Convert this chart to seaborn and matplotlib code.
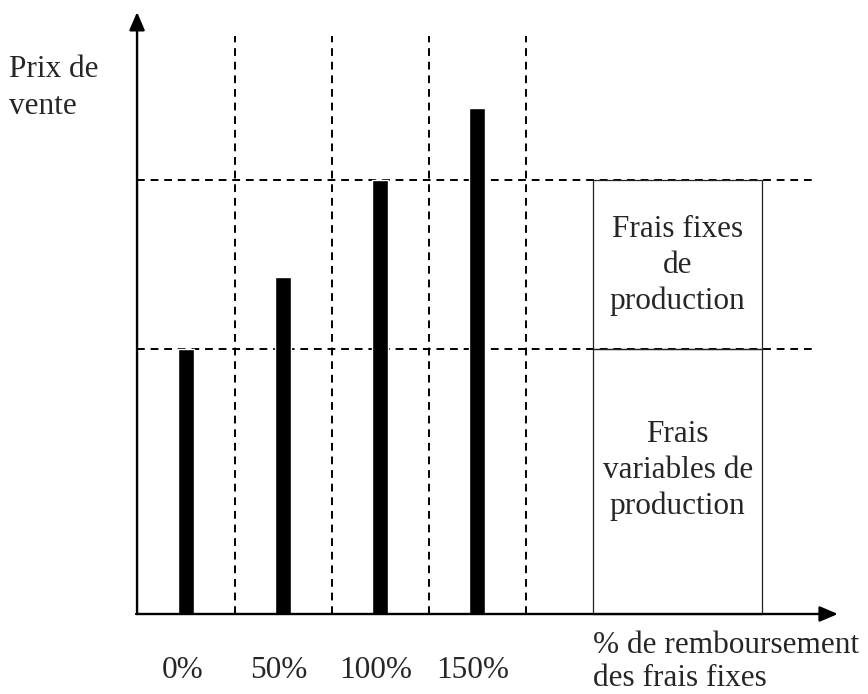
import matplotlib
matplotlib.use("Agg")
import matplotlib.pyplot as plt
import seaborn as sns
import pandas as pd

# Selling price for each level of fixed-cost recovery
categories = ["0%", "50%", "100%", "150%"]
prix_vente = [55, 70, 90, 105]

# Cost breakdown shown in the reference column
frais_variables = 55
frais_fixes = 35

sns.set_style("white")
plt.rcParams["font.family"] = ["Liberation Serif", "DejaVu Serif"]

df = pd.DataFrame({"remb": categories, "prix": prix_vente})

fig = plt.figure(figsize=(8.68, 6.94), dpi=100)
ax = fig.add_axes([0, 0, 1, 1])

sns.barplot(data=df, x="remb", y="prix", order=categories, color="black",
            width=0.165, saturation=1, ax=ax, zorder=3)

x0 = -0.505          # position of the vertical axis
ax.set_xlim(-1.918, 7.031)
ax.set_ylim(-16.6, 127.4)
ax.set_axis_off()

dash = (0, (4, 3))
# vertical dashed separators between categories
for i in range(len(categories)):
    ax.plot([i + 0.5, i + 0.5], [0, 120], color="black", lw=1.4,
            linestyle=dash, zorder=1)

# horizontal dashed reference levels
box_left, box_right = 4.2, 5.94
total = frais_variables + frais_fixes
for level in (frais_variables, total):
    ax.plot([x0, 6.48], [level, level], color="black", lw=1.4,
            linestyle=dash, zorder=1)

# stacked cost column
for y_lo, y_hi in ((0, frais_variables), (frais_variables, total)):
    ax.plot([box_left, box_left, box_right, box_right, box_left],
            [y_lo, y_hi, y_hi, y_lo, y_lo], color="#222222", lw=0.9, zorder=2)

# axes with arrows
head = "-|>,head_length=1.1,head_width=0.47"
ax.annotate("", xy=(x0, 124.9), xytext=(x0, 0),
            arrowprops=dict(arrowstyle=head, color="black", lw=1.7,
                            shrinkA=0, shrinkB=0))
ax.annotate("", xy=(6.72, 0), xytext=(x0 - 0.01, 0),
            arrowprops=dict(arrowstyle=head, color="black", lw=1.7,
                            shrinkA=0, shrinkB=0))

fs = 22.5
# category labels below the axis
for i, lab in enumerate(categories):
    ax.text(i - 0.04, -11.8, lab, ha="center", va="center", fontsize=fs)

ax.text(-1.83, 116, "Prix de\nvente", ha="left", va="top", fontsize=fs,
        linespacing=1.35)
ax.text(4.2, -3.6, "% de remboursement\ndes frais fixes", ha="left", va="top",
        fontsize=fs, linespacing=1.17)

cx = (box_left + box_right) / 2
ax.text(cx, 72.25, "Frais fixes\nde\nproduction",
        ha="center", va="center", fontsize=fs, linespacing=1.3)
ax.text(cx, 29.75, "Frais\nvariables de\nproduction",
        ha="center", va="center", fontsize=fs, linespacing=1.3)

fig.savefig("out.png", dpi=100)
